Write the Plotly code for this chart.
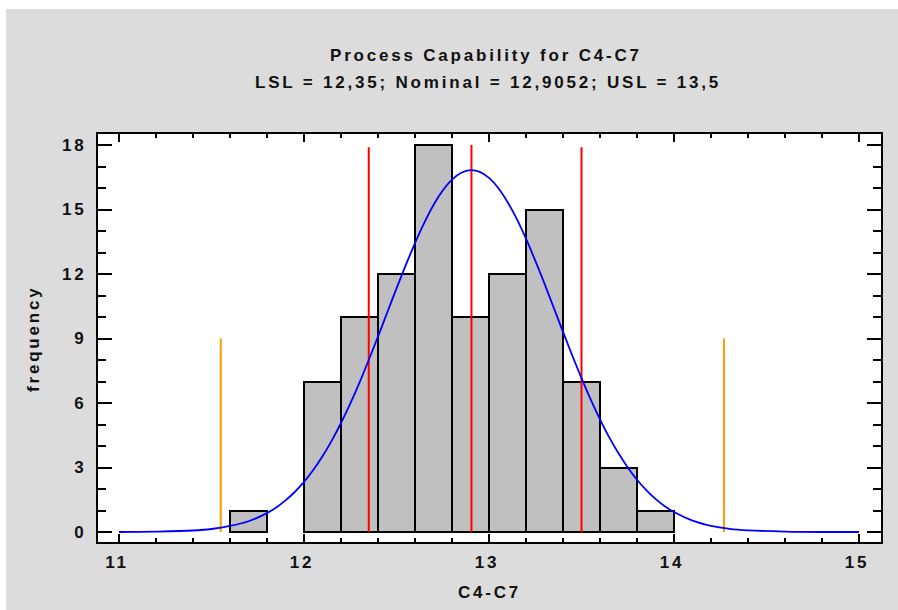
import plotly.graph_objects as go

# ---------------- data ----------------
bin_centers = [11.7, 12.1, 12.3, 12.5, 12.7, 12.9, 13.1, 13.3, 13.5, 13.7, 13.9]
bin_counts = [1, 7, 10, 12, 18, 10, 12, 15, 7, 3, 1]
bin_width = 0.2

curve_x = [11.0, 11.2, 11.4, 11.5, 11.6, 11.7, 11.8, 11.85, 11.9, 11.95,
           12.0, 12.05, 12.1, 12.15, 12.2, 12.25, 12.3, 12.35, 12.4, 12.45,
           12.5, 12.55, 12.6, 12.65, 12.7, 12.75, 12.8, 12.85, 12.9, 12.95,
           13.0, 13.05, 13.1, 13.15, 13.2, 13.25, 13.3, 13.35, 13.4, 13.45,
           13.5, 13.55, 13.6, 13.65, 13.7, 13.75, 13.8, 13.85, 13.9, 13.95,
           14.0, 14.1, 14.2, 14.3, 14.4, 14.6, 14.8, 15.0]
curve_y = [0.0, 0.02, 0.07, 0.14, 0.28, 0.5, 0.88, 1.14, 1.47, 1.86,
           2.33, 2.88, 3.52, 4.25, 5.07, 5.97, 6.95, 8.0, 9.09, 10.21,
           11.33, 12.41, 13.44, 14.38, 15.21, 15.88, 16.39, 16.71, 16.83, 16.75,
           16.47, 16.0, 15.35, 14.56, 13.64, 12.62, 11.55, 10.43, 9.31, 8.21,
           7.16, 6.16, 5.24, 4.4, 3.66, 3.0, 2.43, 1.95, 1.54, 1.2,
           0.93, 0.53, 0.29, 0.15, 0.08, 0.02, 0.0, 0.0]

spec_names = ["LSL", "Nominal", "USL"]
spec_values = [12.35, 12.9052, 13.5]
spec_tops = [17.9, 18.0, 17.9]
sigma_limits = [11.55, 14.27]
sigma_top = 9.0

x_tick_vals = [11, 12, 13, 14, 15]
x_tick_labels = ["11", "12", "13", "14", "15"]
y_tick_vals = [0, 3, 6, 9, 12, 15, 18]
y_tick_labels = ["0", "3", "6", "9", "12", "15", "18"]

title_line1 = "Process Capability for C4-C7"
title_line2 = "LSL = 12,35; Nominal = 12,9052; USL = 13,5"
x_title = "C4-C7"
y_title = "frequency"

# ---------------- style ----------------
FONT = "Liberation Sans, Arial, sans-serif"
TXT = "#111111"
LS = 2.8  # letter spacing px


def sp(t, ls=LS):
    return f"<span style='letter-spacing:{ls}px'>{t}</span>"


W, H = 898, 610
L, R, T, B = 98, 881, 134, 542  # plot box in pixels
pw, ph = R - L, B - T


def px(x):  # screen pixel -> paper
    return (x - L) / pw


def py(y):
    return (B - y) / ph


fig = go.Figure()

fig.add_trace(go.Bar(
    x=bin_centers, y=bin_counts, width=bin_width,
    marker=dict(color="#c0c0c0", line=dict(color="black", width=2)),
    showlegend=False, hoverinfo="skip",
))

for v, top in zip(spec_values, spec_tops):
    fig.add_trace(go.Scatter(x=[v, v], y=[0, top], mode="lines",
                             line=dict(color="#ff0000", width=2),
                             showlegend=False, hoverinfo="skip"))

for v in sigma_limits:
    fig.add_trace(go.Scatter(x=[v, v], y=[0, sigma_top], mode="lines",
                             line=dict(color="#ff9900", width=2),
                             showlegend=False, hoverinfo="skip"))

fig.add_trace(go.Scatter(x=curve_x, y=curve_y, mode="lines",
                         line=dict(color="#0000ff", width=1.8, shape="spline", smoothing=1.0),
                         showlegend=False, hoverinfo="skip"))

tickfont = dict(family=FONT, size=17, color=TXT, weight="bold")

fig.update_xaxes(
    range=[11 - 21 / 185, 15 + 22 / 185],
    tickmode="array", tickvals=x_tick_vals, ticktext=[sp(t) for t in x_tick_labels],
    ticks="inside", ticklen=8, tickwidth=2, tickcolor="black",
    minor=dict(tickmode="linear", tick0=11, dtick=0.2, ticks="inside", ticklen=4,
               tickwidth=1.5, tickcolor="black"),
    showline=True, linecolor="black", linewidth=2, mirror="allticks",
    showgrid=False, zeroline=False, tickfont=tickfont, ticklabelshift=-2,
    ticklabelstandoff=4,
)
fig.update_yaxes(
    range=[-10 / 21.5, 18 + 11 / 21.5],
    tickmode="array", tickvals=y_tick_vals, ticktext=[sp(t) for t in y_tick_labels],
    ticks="inside", ticklen=14, tickwidth=2, tickcolor="black",
    minor=dict(tickmode="linear", tick0=0, dtick=1, ticks="inside", ticklen=8,
               tickwidth=1.5, tickcolor="black"),
    showline=True, linecolor="black", linewidth=2, mirror="allticks",
    showgrid=False, zeroline=False, tickfont=tickfont, ticklabelstandoff=6,
)

annfont = dict(family=FONT, size=17, color=TXT, weight="bold")
fig.update_layout(
    width=W, height=H,
    margin=dict(l=L, r=W - R, t=T, b=H - B, pad=0),
    paper_bgcolor="rgb(220,220,220)", plot_bgcolor="white",
    bargap=0,
    shapes=[
        dict(type="rect", xref="paper", yref="paper", x0=-0.2, x1=1.2,
             y0=py(9), y1=py(-20), fillcolor="white", line=dict(width=0), layer="below"),
        dict(type="rect", xref="paper", yref="paper", x0=-0.2, x1=px(6),
             y0=-0.3, y1=py(-20), fillcolor="white", line=dict(width=0), layer="below"),
    ],
    annotations=[
        dict(text=sp(title_line1), x=px(486), y=py(55), xref="paper", yref="paper",
             xanchor="center", yanchor="middle", showarrow=False, font=annfont),
        dict(text=sp(title_line2), x=px(488), y=py(82), xref="paper", yref="paper",
             xanchor="center", yanchor="middle", showarrow=False, font=annfont),
        dict(text=sp(x_title), x=px(489), y=py(592), xref="paper", yref="paper",
             xanchor="center", yanchor="middle", showarrow=False, font=annfont),
        dict(text=sp(y_title), x=px(33), y=py(339), xref="paper", yref="paper",
             xanchor="center", yanchor="middle", showarrow=False, font=annfont,
             textangle=-90),
    ],
)

fig.write_html(
    "out.html",
    config={"displayModeBar": False},
    post_script="document.body.style.margin='0';document.body.style.overflow='hidden';",
)
